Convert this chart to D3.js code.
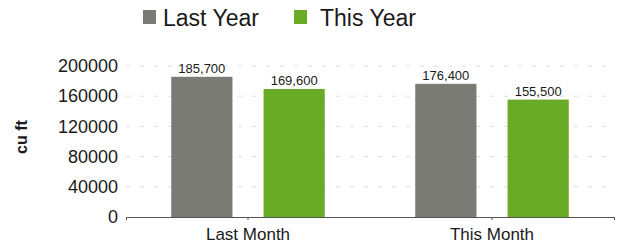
<!DOCTYPE html>
<html>
<head>
<meta charset="utf-8">
<script src="https://cdn.jsdelivr.net/npm/d3@7"></script>
<style>
  body { margin: 0; background: #fff; }
  svg text { font-family: "Liberation Sans", Arial, sans-serif; fill: #1a1a1a; }
</style>
</head>
<body>
<div id="chart"></div>
<script>
const categories = ["Last Month", "This Month"];
const series = ["Last Year", "This Year"];
const lastYear = [185700, 176400];
const thisYear = [169600, 155500];
const yTicks = [0, 40000, 80000, 120000, 160000, 200000];
const colors = ["#7b7b76", "#6aab26"];

const width = 620, height = 246;
const margin = {top: 66, right: 6, bottom: 29, left: 126};

const svg = d3.select("#chart").append("svg")
    .attr("width", width)
    .attr("height", height);

const rows = categories.map((c, i) => ({cat: c, values: [lastYear[i], thisYear[i]]}));

const x0 = d3.scaleBand()
    .domain(categories)
    .range([margin.left, width - margin.right]);

const x1 = d3.scaleBand()
    .domain(series)
    .range([0, x0.bandwidth()])
    .paddingOuter(0.49)
    .paddingInner(0.337);

const y = d3.scaleLinear()
    .domain([0, 200000])
    .range([height - margin.bottom, margin.top]);

// grid lines
svg.append("g")
  .selectAll("line")
  .data(yTicks.slice(1))
  .join("line")
    .attr("x1", margin.left)
    .attr("x2", width - margin.right)
    .attr("y1", d => y(d))
    .attr("y2", d => y(d))
    .attr("stroke", "#dcdcdc")
    .attr("stroke-dasharray", "4,10");

// y axis labels
const yAxis = svg.append("g")
    .attr("transform", "translate(" + margin.left + ",0)")
    .call(d3.axisLeft(y).tickValues(yTicks).tickFormat(d3.format("d")).tickSize(0).tickPadding(8));
yAxis.select(".domain").remove();
yAxis.selectAll("text").style("font-size", "18px").attr("fill", "#1a1a1a");

// bars
const groups = svg.append("g")
  .selectAll("g")
  .data(rows)
  .join("g")
    .attr("transform", d => "translate(" + x0(d.cat) + ",0)");

groups.selectAll("rect")
  .data(d => d.values.map((v, i) => ({key: series[i], value: v, i})))
  .join("rect")
    .attr("x", d => x1(d.key))
    .attr("y", d => y(d.value))
    .attr("width", x1.bandwidth())
    .attr("height", d => y(0) - y(d.value))
    .attr("fill", d => colors[d.i]);

groups.selectAll("text")
  .data(d => d.values.map((v, i) => ({key: series[i], value: v})))
  .join("text")
    .attr("x", d => x1(d.key) + x1.bandwidth() / 2)
    .attr("y", d => y(d.value) - 4)
    .attr("text-anchor", "middle")
    .style("font-size", "13px")
    .text(d => d3.format(",")(d.value));

// x axis
const xAxis = svg.append("g")
    .attr("transform", "translate(0," + y(0) + ")")
    .call(d3.axisBottom(x0).tickSize(3).tickPadding(8));
xAxis.select(".domain").attr("stroke", "#555");
xAxis.selectAll("line").attr("stroke", "#555");
xAxis.selectAll("text").style("font-size", "17px").attr("fill", "#1a1a1a");

// y axis title
svg.append("text")
    .attr("transform", "translate(27,137) rotate(-90)")
    .attr("text-anchor", "middle")
    .style("font-size", "16px")
    .style("font-weight", "bold")
    .text("cu ft");

// legend
const legendX = [143, 294];
const legend = svg.append("g")
  .selectAll("g")
  .data(series)
  .join("g")
    .attr("transform", (d, i) => "translate(" + legendX[i] + ",10)");
legend.append("rect")
    .attr("width", 13)
    .attr("height", 14)
    .attr("fill", (d, i) => colors[i]);
legend.append("text")
    .attr("x", (d, i) => i === 0 ? 20 : 26)
    .attr("y", 16)
    .style("font-size", "23px")
    .text(d => d);
</script>
</body>
</html>
